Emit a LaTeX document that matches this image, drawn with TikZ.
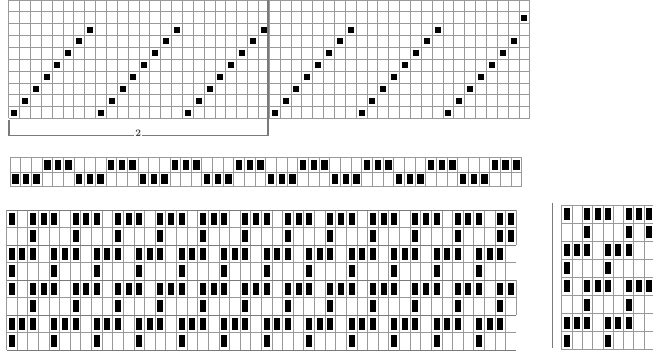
\documentclass[tikz,border=0pt]{standalone}
\definecolor{gridgray}{HTML}{999999}
\definecolor{framegray}{HTML}{7A7A7A}
\definecolor{labelgray}{HTML}{404040}
\tikzset{
  gridline/.style={draw=gridgray, line width=0.8pt},
  pairline/.style={draw=framegray, line width=0.9pt},
  bracketline/.style={draw=framegray, line width=1.4pt},
  cellfill/.style={fill=black},
  repeatlabel/.style={text=labelgray, font=\fontsize{10}{10}\selectfont\bfseries, inner sep=1pt, fill=white}
}
\begin{document}
\begin{tikzpicture}[x=1pt,y=-1pt]
\useasboundingbox (0,0) rectangle (653,358);
\fill[white] (0,0) rectangle (653,358);
\begin{scope}
\clip (0,0) rectangle (653,358);
% ---------------- top grid (draft threading) ----------------
\def\tl{8.6}\def\tw{10.86}\def\tb{118.5}\def\th{11.85}
\foreach \i in {0,...,48} \draw[gridline] ({\tl+\i*\tw},\tb) -- ({\tl+\i*\tw},{\tb-10*\th});
\foreach \j in {0,...,10} \draw[gridline] (\tl,{\tb-\j*\th}) -- ({\tl+48*\tw},{\tb-\j*\th});
\foreach \c in {0,...,47} {
  \pgfmathtruncatemacro\r{ifthenelse(\c==47,8,mod(\c,8))}
  \fill[cellfill] ({\tl+(\c+0.5)*\tw-3},{\tb-(\r+0.5)*\th-3}) rectangle ++(6,6);
}
% bracket with repeat label
\node[repeatlabel] (rep) at (138.3,133) {2};
\draw[bracketline] (9,120) -- (9,135.5) -- (rep.west |- 0,135.5);
\draw[bracketline] (rep.east |- 0,135.5) -- (268,135.5) -- (268,0);
% ---------------- middle strip ----------------
\def\ml{10}\def\mw{10.66}\def\mt{157.3}\def\mh{14.7}
\foreach \i in {0,...,48} \draw[gridline] ({\ml+\i*\mw},\mt) -- ({\ml+\i*\mw},{\mt+2*\mh});
\foreach \j in {0,1,2} \draw[gridline] (\ml,{\mt+\j*\mh}) -- ({\ml+48*\mw},{\mt+\j*\mh});
\foreach \c in {0,...,47} {
  \pgfmathtruncatemacro\m{mod(\c,6)}
  \pgfmathsetmacro\yy{(\m<3)*\mh+\mt}
  \fill[cellfill] ({\ml+(\c+0.5)*\mw-3.2},{\yy+\mh/2-5}) rectangle ++(6.4,10);
}
% ---------------- bottom grid ----------------
\def\bl{6.5}\def\bw{10.62}\def\bt{210}\def\bh{17.5}
\foreach \i in {0,...,47} \draw[gridline] ({\bl+\i*\bw},\bt) -- ({\bl+\i*\bw},{\bt+8*\bh});
\draw[gridline] ({\bl+48*\bw},\bt) -- ({\bl+48*\bw},{\bt+2*\bh});
\draw[gridline] ({\bl+48*\bw},{\bt+4*\bh}) -- ({\bl+48*\bw},{\bt+6*\bh});
\foreach \j in {1,3,5,7} \draw[gridline] (\bl,{\bt+\j*\bh}) -- ({\bl+48*\bw},{\bt+\j*\bh});
\foreach \j in {0,2,4,6,8} \draw[pairline] (\bl,{\bt+\j*\bh}) -- ({\bl+48*\bw},{\bt+\j*\bh});
\foreach \r in {0,...,7} {
  \foreach \c in {0,...,47} {
    \pgfmathtruncatemacro\b{(mod(\r,4)==0)*(mod(\c,4)!=1) + (mod(\r,4)==1)*(mod(\c,4)==2) + (mod(\r,4)==2)*(mod(\c,4)!=3) + (mod(\r,4)==3)*(mod(\c,4)==0) + (\r==1)*(\c==47)}
    \ifnum\b>0
      \fill[cellfill] ({\bl+(\c+0.5)*\bw-3},{\bt+(\r+0.5)*\bh-6}) rectangle ++(6,12);
    \fi
  }
}
% ---------------- small grid (right) ----------------
\def\sl{561.7}\def\sw{10.3}\def\st{205}\def\sh{18.1}
\draw[bracketline] (552.7,203) -- (552.7,348);
\foreach \i in {0,...,9} \draw[gridline] ({\sl+\i*\sw},\st) -- ({\sl+\i*\sw},{\st+8*\sh});
\foreach \j in {0,...,8} \draw[gridline] (\sl,{\st+\j*\sh}) -- (660,{\st+\j*\sh});
\foreach \r in {0,...,7} {
  \foreach \c in {0,...,8} {
    \pgfmathtruncatemacro\b{(\c<8)*((mod(\r,4)==0)*(mod(\c,4)!=1) + (mod(\r,4)==1)*(mod(\c,4)==2) + (mod(\r,4)==2)*(mod(\c,4)!=3) + (mod(\r,4)==3)*(mod(\c,4)==0)) + (\c==8)*((\r==0)+(\r==1)+(\r==4))}
    \ifnum\b>0
      \fill[cellfill] ({\sl+(\c+0.5)*\sw-3},{\st+(\r+0.5)*\sh-6}) rectangle ++(6,12);
    \fi
  }
}
\end{scope}
\end{tikzpicture}
\end{document}
